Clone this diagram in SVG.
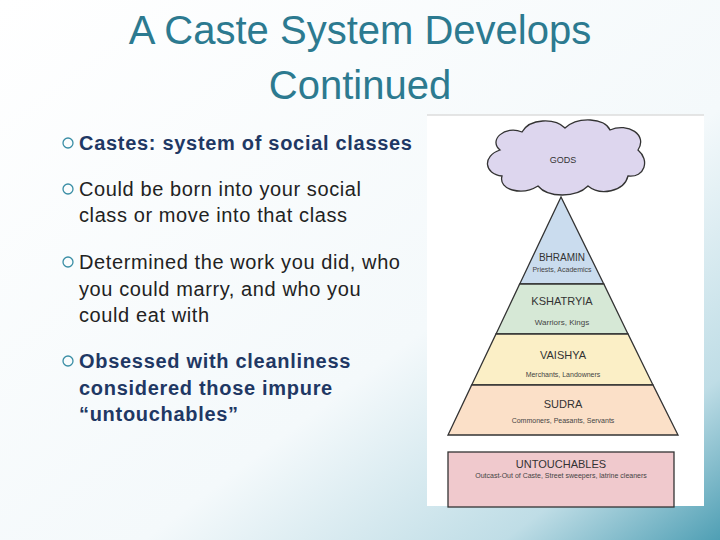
<svg xmlns="http://www.w3.org/2000/svg" width="720" height="540" viewBox="0 0 720 540">
<defs>
<linearGradient id="bg" x1="0" y1="0" x2="1" y2="1">
<stop offset="0" stop-color="#ffffff"/><stop offset="0.6" stop-color="#f4f9fb"/><stop offset="0.85" stop-color="#bfdde6"/><stop offset="1" stop-color="#4f9fb4"/>
</linearGradient>
<style>
.t{font-family:"Liberation Sans",Arial,sans-serif;fill:#2c7a90;font-size:40px;text-anchor:middle}
.b{font-family:"Liberation Sans",Arial,sans-serif;font-size:20px;letter-spacing:0.6px;fill:#222}
.bb{font-weight:bold;fill:#1f3864;letter-spacing:0.7px}
.bul{fill:none;stroke:#3a8ea5;stroke-width:1.3}
.l{stroke:#333;stroke-width:1.3}
.n{font-family:"Liberation Sans",Arial,sans-serif;font-size:11px;fill:#333;text-anchor:middle}
.s{font-family:"Liberation Sans",Arial,sans-serif;font-size:7px;fill:#444;text-anchor:middle}
</style>
</defs>
<rect width="720" height="540" fill="url(#bg)"/>
<text class="t" x="360" y="44">A Caste System Develops</text>
<text class="t" x="360" y="99">Continued</text>
<g id="bullets">
<circle class="bul" cx="68" cy="143" r="5"/><text class="b bb" x="79" y="150">Castes: system of social classes</text>
<circle class="bul" cx="68" cy="189" r="5"/><text class="b" x="79" y="196">Could be born into your social</text><text class="b" x="79" y="222">class or move into that class</text>
<circle class="bul" cx="68" cy="262" r="5"/><text class="b" x="79" y="269">Determined the work you did, who</text><text class="b" x="79" y="296">you could marry, and who you</text><text class="b" x="79" y="322">could eat with</text>
<circle class="bul" cx="68" cy="361" r="5"/><text class="b bb" x="79" y="368">Obsessed with cleanliness</text><text class="b bb" x="79" y="395">considered those impure</text><text class="b bb" x="79" y="421">“untouchables”</text>
</g>
<rect x="427" y="115" width="277" height="391" fill="#fff"/>
<line x1="427" y1="115" x2="704" y2="115" stroke="#ddd" stroke-width="1.5"/>
<g id="gods">
<path d="M500 150 C488 140 505 125 522 132 C530 118 555 118 565 128 C578 116 605 118 610 130 C628 122 648 135 638 150 C650 160 645 178 628 176 C624 192 600 196 588 186 C576 198 548 198 538 186 C522 196 498 190 502 176 C484 174 482 156 500 150 Z" fill="#ddd6ee" stroke="#333" stroke-width="1.3"/>
<text class="n" x="563" y="163" style="font-size:9px">GODS</text>
</g>
<g id="bhramin"><polygon class="l" points="561,197 519.7,284 603.8,284" fill="#cadcee"/><text class="n" x="562" y="261" style="font-size:10px">BHRAMIN</text><text class="s" x="562" y="272">Priests, Academics</text></g>
<g id="kshatryia"><polygon class="l" points="519.7,284 603.8,284 628,334 496,334" fill="#d6e8d6"/><text class="n" x="562" y="305">KSHATRYIA</text><text class="s" x="562" y="325" style="font-size:8px">Warriors, Kings</text></g>
<g id="vaishya"><polygon class="l" points="496,334 628,334 653,385 471.7,385" fill="#fbefc6"/><text class="n" x="563" y="359">VAISHYA</text><text class="s" x="563" y="377">Merchants, Landowners</text></g>
<g id="sudra"><polygon class="l" points="471.7,385 653,385 678,435 448,435" fill="#fbe0c8"/><text class="n" x="563" y="408">SUDRA</text><text class="s" x="563" y="423">Commoners, Peasants, Servants</text></g>
<g id="untouchables"><rect class="l" x="448" y="452" width="226" height="55" fill="#f0c9cd"/><text class="n" x="561" y="468">UNTOUCHABLES</text><text class="s" x="561" y="478">Outcast-Out of Caste, Street sweepers, latrine cleaners</text></g>
<g id="connectors"/>
</svg>
